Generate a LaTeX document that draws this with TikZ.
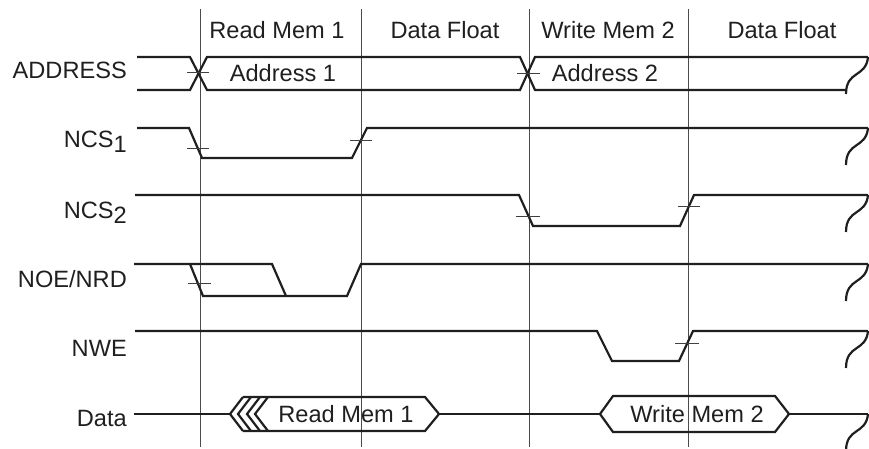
\documentclass[tikz,border=0pt]{standalone}
\usepackage{fontspec}
\setmainfont{Liberation Sans}
\begin{document}
\begin{tikzpicture}[x=1pt,y=-1pt,
  sig/.style={line width=2.2pt, draw=black!88, line join=miter, line cap=butt},
  gridline/.style={line width=1pt, draw=black!70},
  tickmark/.style={line width=0.9pt, draw=black!75},
  lbl/.style={font=\fontsize{23.6}{28}\selectfont, inner sep=0pt, text=black!88},
  brk/.style={line width=2.2pt, draw=black!88}]
\useasboundingbox (0,0) rectangle (869,449);
% vertical phase lines
\foreach \x/\n in {200/a,361/b,529/c,688/d}
  \draw[gridline] (\x,9) coordinate (v\n top) -- (\x,447) coordinate (v\n bot);
% column headers
\node[lbl, anchor=base] (h1) at (277,39) {Read Mem 1};
\node[lbl, anchor=base] (h2) at (445,39) {Data Float};
\node[lbl, anchor=base] (h3) at (608,39) {Write Mem 2};
\node[lbl, anchor=base] (h4) at (782,39) {Data Float};
% signal names
\node[lbl, anchor=base east] (lA) at (127,79) {ADDRESS};
\node[lbl, anchor=base east] (lC1) at (127,148) {NCS\raisebox{-5pt}{1}};
\node[lbl, anchor=base east] (lC2) at (127,218) {NCS\raisebox{-5pt}{2}};
\node[lbl, anchor=base east] (lO) at (127,287) {NOE/NRD};
\node[lbl, anchor=base east] (lW) at (127,356) {NWE};
\node[lbl, anchor=base east] (lD) at (127,426) {Data};
% ADDRESS
\draw[sig] (137,57) -- (190,57) -- (207,90) -- (520,90) -- (535,57) -- (868,57);
\draw[sig] (137,90) -- (190,90) -- (207,57) -- (520,57) -- (535,90) -- (846,90);
\draw[tickmark] (187,72) -- (209,72);
\draw[tickmark] (517,73) -- (540,73);
\node[lbl, anchor=base] (a1) at (283,82) {Address 1};
\node[lbl, anchor=base] (a2) at (605,82) {Address 2};
% NCS1
\draw[sig] (137,128) -- (189,128) -- (202,158) -- (352,158) -- (367,128) -- (868,128);
\draw[tickmark] (187,148) -- (209,148);
\draw[tickmark] (350,140) -- (372,140);
% NCS2
\draw[sig] (135,195) -- (519,195) -- (533,226) -- (680,226) -- (694,195) -- (868,195);
\draw[tickmark] (516,216) -- (540,216);
\draw[tickmark] (678,206) -- (700,206);
% NOE/NRD
\draw[sig] (134,264) -- (272,264) -- (286,296);
\draw[sig] (190,264) -- (203,296) -- (347,296) -- (361,264) -- (868,264);
\draw[tickmark] (188,283) -- (211,283);
% NWE
\draw[sig] (135,331) -- (597,331) -- (612,361) -- (679,361) -- (693,331) -- (868,331);
\draw[tickmark] (675,343) -- (699,343);
% Data
\draw[sig] (134,414) -- (230,414);
\foreach \t in {230,238,247,255}
  \draw[sig] (\t+13,397) -- (\t,414) -- (\t+13,431);
\draw[sig] (243,397) -- (425,397) -- (439,414) -- (425,431) -- (243,431);
\draw[sig] (439,414) -- (600,414);
\draw[sig] (600,414) -- (613,396) -- (775,396) -- (789,414) -- (775,432) -- (613,432) -- cycle;
\draw[sig] (789,414) -- (868,414);
\node[lbl, anchor=base] (d1) at (346,422) {Read Mem 1};
\node[lbl, anchor=base] (d2) at (697,422) {Write Mem 2};
% break symbols
\foreach \y in {57,128,195,264,331,414}
  \draw[brk] (868,\y) .. controls (866,\y+21) and (846,\y+13) .. (846,\y+37);
\end{tikzpicture}
\end{document}
